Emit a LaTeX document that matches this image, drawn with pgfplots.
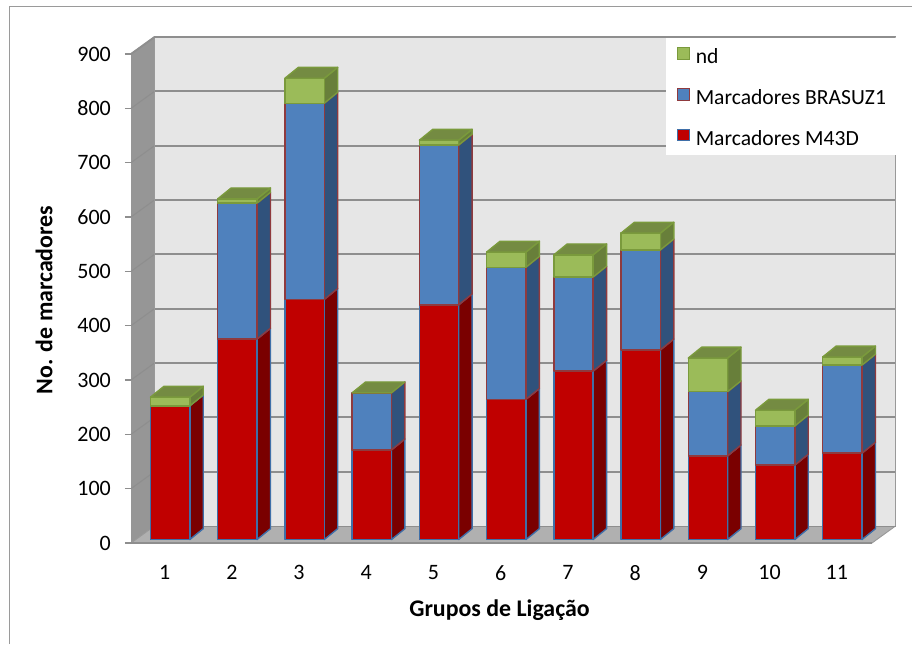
\documentclass[border=0pt]{standalone}
\usepackage{pgfplots}
\pgfplotsset{compat=1.18}
\usepackage{fontspec}
\setmainfont{Carlito}

\definecolor{wallback}{HTML}{E6E6E6}
\definecolor{wallside}{HTML}{969696}
\definecolor{wallfloor}{HTML}{B0B0B0}
\definecolor{gridgray}{HTML}{8E8E8E}
\definecolor{framegray}{HTML}{9A9A9A}
\definecolor{redface}{HTML}{C00000}
\definecolor{redside}{HTML}{7A0000}
\definecolor{rededge}{HTML}{3F6FA8}
\definecolor{blueface}{HTML}{4F81BD}
\definecolor{blueside}{HTML}{30527C}
\definecolor{blueedge}{HTML}{8F3A3E}
\definecolor{greenface}{HTML}{9BBB59}
\definecolor{greenside}{HTML}{687F3A}
\definecolor{greentop}{HTML}{748B42}
\definecolor{greenedge}{HTML}{7A9A3C}

% depth of the box and of the bars, in axis units
\def\boxdy{31.3}
\def\barbase{6.4}
\def\bardx{0.2}
\def\bardy{20}
\def\barw{0.585}

\pgfplotsset{
  face/.style={forget plot, line join=round, line width=1.05pt},
}

% one face of the box, closed
\newcommand{\quadface}[9]{%
  \addplot[forget plot, #1] coordinates {(#2,#3) (#4,#5) (#6,#7) (#8,#9)} --cycle;}

% a full bar: category, M43D, BRASUZ1, nd
\newcommand{\stackedbar}[4]{%
  \pgfmathsetmacro\xa{#1-0.21}
  \pgfmathsetmacro\xb{\xa+\barw}
  \pgfmathsetmacro\xc{\xb+\bardx}
  \pgfmathsetmacro\xd{\xa+\bardx}
  \pgfmathsetmacro\ya{\barbase}
  \pgfmathsetmacro\yb{\ya+#2}
  \pgfmathsetmacro\yc{\yb+#3}
  \pgfmathsetmacro\yd{\yc+#4}
  \pgfmathsetmacro\yab{\ya+\bardy}
  \pgfmathsetmacro\ybb{\yb+\bardy}
  \pgfmathsetmacro\ycb{\yc+\bardy}
  \pgfmathsetmacro\ydb{\yd+\bardy}
  % side faces
  \addplot[face, draw=rededge, fill=redside] coordinates {(\xb,\ya) (\xc,\yab) (\xc,\ybb) (\xb,\yb)} --cycle;
  \ifdim#3pt>0pt
    \addplot[face, draw=blueedge, fill=blueside] coordinates {(\xb,\yb) (\xc,\ybb) (\xc,\ycb) (\xb,\yc)} --cycle;
  \fi
  \ifdim#4pt>0pt
    \addplot[face, draw=greenedge, fill=greenside] coordinates {(\xb,\yc) (\xc,\ycb) (\xc,\ydb) (\xb,\yd)} --cycle;
  \fi
  % front faces
  \addplot[face, draw=rededge, fill=redface] coordinates {(\xa,\ya) (\xb,\ya) (\xb,\yb) (\xa,\yb)} --cycle;
  \ifdim#3pt>0pt
    \addplot[face, draw=blueedge, fill=blueface] coordinates {(\xa,\yb) (\xb,\yb) (\xb,\yc) (\xa,\yc)} --cycle;
  \fi
  \ifdim#4pt>0pt
    \addplot[face, draw=greenedge, fill=greenface] coordinates {(\xa,\yc) (\xb,\yc) (\xb,\yd) (\xa,\yd)} --cycle;
  \fi
  % top, laid over the upper edges
  \addplot[face, draw=greenedge, fill=greentop] coordinates {(\xa,\yd) (\xb,\yd) (\xc,\ydb) (\xd,\ydb)} --cycle;
}

\begin{document}
\begin{tikzpicture}[x=0.75pt, y=0.75pt]
\useasboundingbox (0,0) rectangle (912,644);
% chart frame: top and left rules only
\draw[framegray, line width=1.4pt] (9.5,0) -- (9.5,637.5) -- (912,637.5);
\begin{axis}[
  at={(98.25pt,75.75pt)}, anchor=south west,
  x=50.415pt, y=0.4075pt,
  xmin=0.5, xmax=11.523, ymin=0, ymax=900,
  clip=false,
  axis lines*=left,
  axis line style={draw=none},
  xtick={1,...,11},
  ytick={0,100,...,900},
  tick align=outside,
  major tick length=4.6pt,
  xtick style={draw=none},
  ytick style={draw=gridgray, line width=1pt},
  /pgf/number format/assume math mode=true,
  tick label style={font=\fontsize{16.5pt}{18pt}\selectfont},
  xticklabel style={yshift=-8.5pt},
  yticklabel style={xshift=-7pt},
  xlabel={\bfseries Grupos de Ligação},
  ylabel={\bfseries No. de marcadores},
  label style={font=\fontsize{17.9pt}{20pt}\selectfont},
  xlabel style={at={(axis description cs:0.4973,-0.1375)}, anchor=center},
  ylabel style={at={(axis description cs:-0.1174,0.497)}, anchor=center},
  legend cell align=left,
  legend style={
    at={(axis description cs:0.7368,1.015)}, anchor=north west,
    draw=none, fill=none,
    font=\fontsize{16.2pt}{18pt}\selectfont,
    row sep=12.6pt, inner sep=0pt, outer sep=0pt,
    nodes={inner sep=1.5pt, text height=11.5pt, text depth=3.5pt},
    /tikz/every odd column/.append style={column sep=3pt},
  },
]
  % back wall, side wall and floor
  \quadface{fill=wallback, draw=none}{0.85}{31.3}{11.873}{31.3}{11.873}{931.3}{0.85}{931.3}
  \quadface{fill=wallside, draw=none}{0.5}{0}{0.85}{31.3}{0.85}{931.3}{0.5}{900}
  \quadface{fill=wallfloor, draw=none}{0.5}{0}{11.523}{0}{11.873}{31.3}{0.85}{31.3}

  % gridlines across both walls
  \pgfplotsinvokeforeach{100,200,...,900}{
    \pgfmathsetmacro\gy{#1+\boxdy}
    \addplot[forget plot, draw=gridgray, line width=1.4pt] coordinates {(0.85,\gy) (11.873,\gy)};
    \addplot[forget plot, draw=gridgray, line width=0.8pt] coordinates {(0.5,#1) (0.85,\gy)};
  }
  \addplot[forget plot, draw=gridgray!90, line width=0.7pt] coordinates {(11.873,31.3) (11.873,931.3)};
  \addplot[forget plot, draw=gridgray!90, line width=0.8pt] coordinates {(0.85,31.3) (0.85,931.3)};
  \addplot[forget plot, draw=gridgray!90, line width=0.7pt] coordinates {(0.5,0) (0.85,31.3)};
  \addplot[forget plot, draw=gridgray!90, line width=0.7pt] coordinates {(11.523,0) (11.873,31.3)};
  \addplot[forget plot, draw=gridgray, line width=0.7pt] coordinates {(0.85,31.3) (11.873,31.3)};

  % white panel behind the legend
  \quadface{fill=white, draw=none}{8.459}{714}{11.885}{714}{11.885}{931.3}{8.459}{931.3}
  \addplot[forget plot, draw=gridgray, line width=1.4pt] coordinates {(0.5,900) (0.85,931.3) (11.873,931.3)};
  \addplot[forget plot, draw=gridgray, line width=1.6pt] coordinates {(0.5,0) (11.523,0)};

  % category, M43D, BRASUZ1, nd
  \stackedbar{1}{246}{0}{16}
  \stackedbar{2}{369}{250}{8}
  \stackedbar{3}{442}{361}{46}
  \stackedbar{4}{165}{105}{0}
  \stackedbar{5}{432}{294}{9}
  \stackedbar{6}{258}{243}{28}
  \stackedbar{7}{310}{173}{41}
  \stackedbar{8}{349}{184}{31}
  \stackedbar{9}{154}{118}{62}
  \stackedbar{10}{137}{72}{29}
  \stackedbar{11}{159}{162}{15}

  \addlegendimage{legend image code/.code={\draw[draw=greenedge, fill=greenface, line width=0.8pt] (0pt,-0.5pt) rectangle (8.8pt,8.3pt);}}
  \addlegendentry{nd}
  \addlegendimage{legend image code/.code={\draw[draw=blueedge, fill=blueface, line width=0.8pt] (0pt,-0.5pt) rectangle (8.8pt,8.3pt);}}
  \addlegendentry{Marcadores BRASUZ1}
  \addlegendimage{legend image code/.code={\draw[draw=rededge, fill=redface, line width=0.8pt] (0pt,-0.5pt) rectangle (8.8pt,8.3pt);}}
  \addlegendentry{Marcadores M43D}
\end{axis}
\end{tikzpicture}
\end{document}
